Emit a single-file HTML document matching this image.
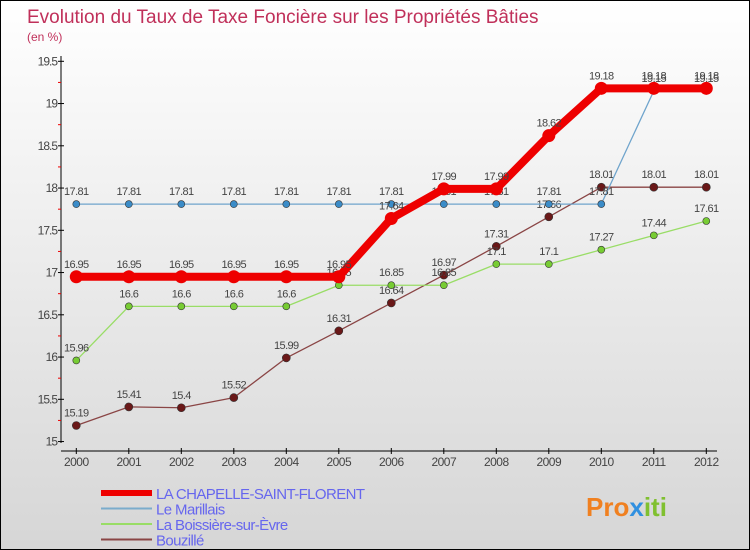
<!DOCTYPE html>
<html><head><meta charset="utf-8"><style>
body{margin:0}
#c{width:748px;height:548px;border:1px solid #000;background:linear-gradient(#fff,#d6d6d6);position:relative;overflow:hidden;font-family:"Liberation Sans",sans-serif}
</style></head><body>
<div id="c">
<svg id="s" width="748" height="548" xmlns="http://www.w3.org/2000/svg">
<text x="26" y="22" font-size="19" fill="#c0305a">Evolution du Taux de Taxe Foncière sur les Propriétés Bâties</text>
<text x="26" y="40" font-size="12" fill="#c0305a">(en %)</text>
<g id="axes"></g><g id="series"></g><g id="legend"></g>
<text x="585" y="515" font-size="26" font-weight="bold" fill="#f08020">Pro<tspan fill="#3090e0">x</tspan><tspan fill="#80c030">iti</tspan></text>
</svg></div>
<script>
const years=[2000,2001,2002,2003,2004,2005,2006,2007,2008,2009,2010,2011,2012];
const yTicks=[15,15.5,16,16.5,17,17.5,18,18.5,19,19.5];
const seriesNames=["LA CHAPELLE-SAINT-FLORENT","Le Marillais","La Boissière-sur-Èvre","Bouzillé"];
const chapelle=[16.95,16.95,16.95,16.95,16.95,16.95,17.64,17.99,17.99,18.62,19.18,19.18,19.18];
const marillais=[17.81,17.81,17.81,17.81,17.81,17.81,17.81,17.81,17.81,17.81,17.81,19.15,19.15];
const boissiere=[15.96,16.6,16.6,16.6,16.6,16.85,16.85,16.85,17.1,17.1,17.27,17.44,17.61];
const bouzille=[15.19,15.41,15.4,15.52,15.99,16.31,16.64,16.97,17.31,17.66,18.01,18.01,18.01];
const NS="http://www.w3.org/2000/svg";
const X=i=>75.3+i*52.5, Y=v=>60.3+(19.5-v)*84.5;
function mk(p,t,a){const e=document.createElementNS(NS,t);for(const k in a)e.setAttribute(k,a[k]);p.appendChild(e);return e;}
const ax=document.getElementById('axes');
let l=mk(ax,'line',{x1:60,y1:55,x2:60,y2:442,stroke:'#000'});

l=mk(ax,'line',{x1:60,y1:450,x2:716,y2:450,stroke:'#000'});

yTicks.forEach((v,i)=>{const y=Y(v);
 mk(ax,'line',{x1:57,y1:y,x2:63,y2:y,stroke:'#000'});
 if(i<yTicks.length-1)mk(ax,'line',{x1:57,y1:Y(v+0.25),x2:60,y2:Y(v+0.25),stroke:'#e00'});
 const t=mk(ax,'text',{x:56,y:y+4,'font-size':12,fill:'#444','text-anchor':'end','letter-spacing':'-1'});t.textContent=String(v);
 });
years.forEach((yr,i)=>{const x=X(i);
 mk(ax,'line',{x1:x,y1:447,x2:x,y2:453,stroke:'#000'});
 const t=mk(ax,'text',{x:x,y:465,'font-size':12,fill:'#444','text-anchor':'middle','letter-spacing':'-0.5'});t.textContent=yr;
 });
const sg=document.getElementById('series');
const defs=[[bouzille,'#8a4545',1.3,'#6a1818',4.5,'bouzille'],[boissiere,'#99dd66',1.3,'#77cc33',4,'boissiere'],[marillais,'#6fa4cc',1.3,'#3b8cc8',4,'marillais'],[chapelle,'#ee0000',8,'#ee0000',7,'chapelle']];
defs.forEach(([d,c,w,pc,r,n])=>{
 const g=mk(sg,'g',{});
 const p=mk(g,'polyline',{points:d.map((v,i)=>X(i)+','+Y(v)).join(' '),fill:'none',stroke:c,'stroke-width':w,'stroke-linejoin':'round'});
 
 d.forEach((v,i)=>{const ci=mk(g,'circle',{cx:X(i),cy:Y(v),r:r-0.5,fill:pc,stroke:'#333','stroke-width':n=='chapelle'?0:0.6});
  
  const t=mk(g,'text',{x:X(i),y:Y(v)-9,'font-size':11,fill:'#444','text-anchor':'middle','letter-spacing':'-0.6'});t.textContent=String(v);
  });
});
const lg=document.getElementById('legend');
const lc=['#ee0000','#7aaccc','#99dd66','#8a4545'],lw=[6,2,2,2];
seriesNames.forEach((nm,i)=>{const y=492+i*15.5;
 const s=mk(lg,'line',{x1:100,y1:y,x2:151,y2:y,stroke:lc[i],'stroke-width':lw[i]});
 
 const t=mk(lg,'text',{x:155,y:y+6,'font-size':15,fill:'#6666ee','letter-spacing':'-0.6'});t.textContent=nm;
 });
</script>
</body></html>
